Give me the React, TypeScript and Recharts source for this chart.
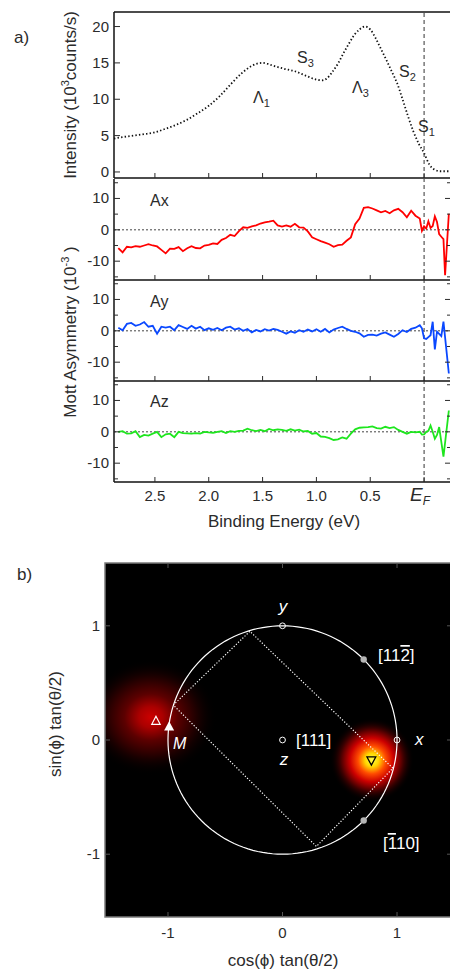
import React from 'react';
import {
  LineChart,
  Line,
  XAxis,
  YAxis,
  ReferenceLine,
  ReferenceArea,
  ScatterChart,
  Scatter,
} from 'recharts';

const FONT = '"Liberation Sans", Arial, Helvetica, sans-serif';
const INK = '#2b2b2b';

// ---------- panel a) : spectrum ----------
const intensityEnergy = [
  2.88, 2.8, 2.7, 2.6, 2.5, 2.4, 2.3, 2.2, 2.1, 2.0, 1.9, 1.8, 1.7, 1.6, 1.55, 1.5, 1.45, 1.4,
  1.3, 1.2, 1.1, 1.0, 0.95, 0.9, 0.85, 0.8, 0.75, 0.7, 0.65, 0.6, 0.55, 0.5, 0.45, 0.4, 0.35,
  0.3, 0.25, 0.2, 0.15, 0.1, 0.05, 0.0, -0.05, -0.1, -0.15, -0.2, -0.25,
];
const intensityCounts = [
  4.6, 4.8, 5.0, 5.2, 5.45, 5.95, 6.5, 7.2, 8.1, 9.1, 10.4, 12.0, 13.5, 14.6, 14.9, 15.0, 14.85, 14.6,
  14.2, 13.85, 13.25, 12.7, 12.6, 12.9, 13.8, 14.9, 16.3, 17.6, 18.8, 19.6, 20.0, 19.6, 18.4, 16.9, 15.4,
  13.8, 12.2, 10.0, 7.7, 5.6, 3.9, 2.6, 1.0, 0.3, 0.1, 0.1, 0.1,
];

// ---------- panel a) : Mott asymmetry ----------
const asymEnergy = [
  2.84, 2.8, 2.76, 2.72, 2.68, 2.64, 2.6, 2.56, 2.52, 2.48,
  2.44, 2.4, 2.36, 2.32, 2.28, 2.24, 2.2, 2.16, 2.12, 2.08,
  2.04, 2.0, 1.96, 1.92, 1.88, 1.84, 1.8, 1.76, 1.72, 1.68,
  1.64, 1.6, 1.56, 1.52, 1.48, 1.44, 1.4, 1.36, 1.32, 1.28,
  1.24, 1.2, 1.16, 1.12, 1.08, 1.04, 1.0, 0.96, 0.92, 0.88,
  0.84, 0.8, 0.76, 0.72, 0.68, 0.64, 0.6, 0.56, 0.52, 0.48,
  0.44, 0.4, 0.36, 0.32, 0.28, 0.24, 0.2, 0.16, 0.12, 0.08,
  0.04, 0.02, 0.0, -0.02, -0.04, -0.06, -0.08, -0.1, -0.12, -0.14,
  -0.16, -0.18, -0.195, -0.21, -0.23,
];
const asymX = [
  -5.8, -7.2, -5.4, -5.6, -5.2, -5.4, -5.0, -4.6, -5.0, -5.3,
  -6.4, -7.5, -6.0, -6.1, -5.5, -6.8, -5.9, -5.2, -5.8, -5.9,
  -5.0, -4.8, -4.3, -4.5, -3.2, -2.6, -1.6, -2.0, -0.4, 0.8,
  0.6, 1.1, 1.4, 2.0, 2.4, 2.6, 2.9, 1.4, 1.0, 1.4,
  1.0, 1.9, 0.8, 0.7, -0.5, -2.4, -3.0, -3.6, -4.1, -4.6,
  -5.4, -4.9, -4.7, -3.5, -2.4, 1.8, 3.6, 7.0, 7.2, 6.8,
  6.2, 5.6, 6.0, 5.3, 6.2, 6.7, 5.6, 4.0, 6.1, 4.5,
  3.6, -0.3, 1.1, 0.4, 2.7, 0.6, 1.2, 4.3, 2.5, -1.4,
  -2.2, -3.0, -14.5, null, 5.1,
];
const asymY = [
  1.0, 0.2, 2.2, 2.5, 1.6, 2.0, 2.8, 1.3, 1.6, -0.9,
  1.3, 1.0, 1.3, 0.2, 1.8, 1.2, 0.6, 1.6, 0.7, 1.3,
  0.2, 0.8, 0.3, 0.9, 0.2, 1.0, 1.3, 0.4, 0.8, 0.0,
  0.6, -0.5, 0.3, -0.2, 0.5, 0.1, 0.6, 0.3, -0.3, -0.9,
  -0.2, -0.6, 0.2, -0.3, 0.4, -0.2, 0.5, -0.3, 0.6, -0.5,
  0.4, 0.9, 1.3, 0.6, 0.0, -0.3, -0.8, -1.9, -1.3, -1.2,
  -1.5, -0.9, -0.5, -1.2, -1.9, -1.0, 0.2, -0.4, 0.6, 1.0,
  1.8, 0.8, -2.4, -2.6, -2.0, -1.4, 2.9, -5.9, -0.3, -1.0,
  -1.7, 2.9, null, null, -13.6,
];
const asymZ = [
  0.0, 0.2, -0.6, -0.5, 0.2, -1.7, -1.0, -1.2, -0.6, 0.0,
  -1.7, -0.8, -0.6, -1.7, 0.0, -0.4, -0.5, -0.6, -0.4, -0.6,
  0.0, -0.2, -0.3, 0.0, 0.2, -0.4, 0.2, 0.0, 0.3, 0.4,
  1.0, 0.5, 0.2, 0.6, 0.2, 0.9, 0.5, 0.8, 0.6, 0.3,
  0.8, 0.4, 0.7, 0.1, 0.3, -0.6, -0.4, -1.5, -1.6, -2.0,
  -2.6, -2.4, -1.8, -2.2, -0.6, 0.8, 1.3, 1.4, 1.5, 1.7,
  1.2, 1.0, 1.6, 1.2, 1.5, 0.6, 0.0, -0.6, 0.0, -0.2,
  0.0, -0.9, -0.8, 0.0, 0.3, 2.0, 0.0, -2.2, -1.0, 1.5,
  null, -7.9, null, null, 6.8,
];

const energyTicks = [2.5, 2.0, 1.5, 1.0, 0.5, 0];
const intensityTicks = [0, 5, 10, 15, 20];
const asymTicks = [-15, -10, -5, 0, 5, 10, 15];
const asymMajor = [-10, 0, 10];

// ---------- panel b) : spin map ----------
const spotX = [-1.15, 0.78];
const spotY = [0.2, -0.175];
const spotKind = ['red', 'hot'];
const rectX = [-0.954, -0.285, 0.964, 0.296, -0.954];
const rectY = [0.306, 0.952, -0.247, -0.932, 0.306];
const openDotX = [0, 1, 0];
const openDotY = [1, 0, 0];
const greyDotX = [0.709, 0.709];
const greyDotY = [0.705, -0.705];
const mX = [-0.99];
const mY = [0.116];
const upOpenX = [-1.105];
const upOpenY = [0.168];
const downX = [0.776];
const downY = [-0.18];
const mapTicks = [-1, 0, 1];

// geometry
const CHART_W = 460;
const A_LEFT = 114;
const A_RIGHT = 451;
const E_DOMAIN: [number, number] = [-0.25, 2.88];
const ASYM_DOMAIN: [number, number] = [-16, 16.2];

const pairs = (xs: number[], ys: number[]) => xs.map((x, i) => ({ x, y: ys[i] }));
const intensityRows = intensityEnergy.map((e, i) => ({ e, v: intensityCounts[i] }));
const asymRows = (vals: (number | null)[]) => asymEnergy.map((e, i) => ({ e, v: vals[i] }));

// the unit circle tan(theta/2) = 1 (a guide, not data)
const unitCircle = Array.from({ length: 145 }, (_, i) => ({
  x: Math.cos((i * 2.5 * Math.PI) / 180),
  y: Math.sin((i * 2.5 * Math.PI) / 180),
}));
const spots = spotX.map((x, i) => ({ x, y: spotY[i], kind: spotKind[i] }));

const EnergyTick = (p: any) => {
  const { x, payload, axisY, labelled } = p;
  const v = payload.value;
  return (
    <g>
      <line x1={x} x2={x} y1={axisY} y2={axisY - 5} stroke={INK} strokeWidth={1} />
      {labelled &&
        (v === 0 ? (
          <text x={x - 4} y={axisY + 19} fontFamily={FONT} fill={INK} textAnchor="middle">
            <tspan fontStyle="italic" fontSize={19}>E</tspan>
            <tspan fontStyle="italic" fontSize={12} dy={4}>F</tspan>
          </text>
        ) : (
          <text x={x} y={axisY + 19} fontFamily={FONT} fontSize={15} fill={INK} textAnchor="middle">
            {v.toFixed(1)}
          </text>
        ))}
    </g>
  );
};

const ValueTick = (p: any) => {
  const { y, payload, major, mirror } = p;
  const v = payload.value;
  const isMajor = major.includes(v);
  const len = isMajor ? 6 : 4;
  return (
    <g>
      <line x1={A_LEFT} x2={A_LEFT + len} y1={y} y2={y} stroke={INK} />
      {mirror && <line x1={A_RIGHT - len} x2={A_RIGHT} y1={y} y2={y} stroke={INK} />}
      {isMajor && (
        <text x={A_LEFT - 5} y={y + 5} fontFamily={FONT} fontSize={15} fill={INK} textAnchor="end">
          {v}
        </text>
      )}
    </g>
  );
};

function AsymPanel({ vals, color, top, bottom, labelled }: any) {
  const h = bottom - top;
  const xh = labelled ? 50 : 2;
  return (
    <div style={{ position: 'absolute', left: 0, top: top - 2 }}>
      <LineChart
        width={CHART_W}
        height={h + 2 + xh}
        data={asymRows(vals)}
        margin={{ top: 2, right: CHART_W - A_RIGHT, bottom: 0, left: 0 }}
      >
        <XAxis
          type="number"
          dataKey="e"
          domain={E_DOMAIN}
          reversed
          allowDataOverflow
          ticks={energyTicks}
          interval={0}
          height={xh}
          axisLine={{ stroke: '#111', strokeWidth: 1.5 }}
          tickLine={false}
          tick={(p: any) => <EnergyTick {...p} axisY={h + 2} labelled={labelled} />}
        />
        <YAxis
          type="number"
          domain={ASYM_DOMAIN}
          allowDataOverflow
          ticks={asymTicks}
          interval={0}
          width={A_LEFT}
          axisLine={{ stroke: '#111', strokeWidth: 1.5 }}
          tickLine={false}
          tick={(p: any) => <ValueTick {...p} major={asymMajor} mirror />}
        />
        <ReferenceLine y={0} stroke="#444" strokeDasharray="2 2" />
        <ReferenceLine x={0} stroke="#333" strokeDasharray="4 3" />
        <Line
          type="linear"
          dataKey="v"
          stroke={color}
          strokeWidth={1.8}
          dot={false}
          connectNulls
          isAnimationActive={false}
        />
      </LineChart>
    </div>
  );
}

const Nothing = () => <g />;

const HotSpot = (p: any) => {
  const { cx, cy, payload } = p;
  if (payload.kind === 'hot') {
    return (
      <g>
        <defs>
          <radialGradient id="hotGrad">
            <stop offset="0" stopColor="#ffff50" />
            <stop offset="0.16" stopColor="#ffd800" />
            <stop offset="0.33" stopColor="#ff4c00" />
            <stop offset="0.52" stopColor="#cc0000" />
            <stop offset="0.75" stopColor="#420000" />
            <stop offset="1" stopColor="#000" stopOpacity={0} />
          </radialGradient>
        </defs>
        <circle cx={cx} cy={cy} r={42} fill="url(#hotGrad)" />
      </g>
    );
  }
  return (
    <g>
      <defs>
        <radialGradient id="redGrad">
          <stop offset="0" stopColor="#cc0000" />
          <stop offset="0.18" stopColor="#aa0000" />
          <stop offset="0.4" stopColor="#5c0000" />
          <stop offset="0.68" stopColor="#220000" />
          <stop offset="1" stopColor="#000" stopOpacity={0} />
        </radialGradient>
      </defs>
      <ellipse cx={cx} cy={cy} rx={66} ry={58} fill="url(#redGrad)" />
    </g>
  );
};

const OpenDot = ({ cx, cy }: any) => <circle cx={cx} cy={cy} r={2.9} fill="none" stroke="#fff" strokeWidth={1} />;
const GreyDot = ({ cx, cy }: any) => <circle cx={cx} cy={cy} r={3.2} fill="#b5b5b5" />;
const UpFilled = ({ cx, cy }: any) => (
  <polygon points={`${cx},${cy - 5.5} ${cx - 5},${cy + 3.8} ${cx + 5},${cy + 3.8}`} fill="#fff" />
);
const UpOpen = ({ cx, cy }: any) => (
  <polygon points={`${cx},${cy - 4.5} ${cx - 4.2},${cy + 3.5} ${cx + 4.2},${cy + 3.5}`} fill="none" stroke="#fff" strokeWidth={1.2} />
);
const DownOpen = ({ cx, cy }: any) => (
  <polygon points={`${cx - 4.4},${cy - 3.6} ${cx + 4.4},${cy - 3.6} ${cx},${cy + 4.6}`} fill="none" stroke="#000" strokeWidth={1.3} />
);

const B_TOP = 23;
const B_BOTTOM = 377;
const B_LEFT = 105;
const B_RIGHT = 452;

const MapXTick = ({ x, payload }: any) => (
  <g>
    <line x1={x} x2={x} y1={B_BOTTOM} y2={B_BOTTOM - 5} stroke="#555" />
    <line x1={x} x2={x} y1={B_TOP} y2={B_TOP + 5} stroke="#555" />
    <text x={x} y={B_BOTTOM + 21} fontFamily={FONT} fontSize={15} fill={INK} textAnchor="middle">
      {payload.value}
    </text>
  </g>
);
const MapYTick = ({ y, payload }: any) => (
  <g>
    <line x1={B_LEFT} x2={B_LEFT + 5} y1={y} y2={y} stroke="#555" />
    <line x1={B_RIGHT - 5} x2={B_RIGHT} y1={y} y2={y} stroke="#555" />
    <text x={B_LEFT - 5} y={y + 5} fontFamily={FONT} fontSize={15} fill={INK} textAnchor="end">
      {payload.value}
    </text>
  </g>
);

function Overlay() {
  const t = { fontFamily: FONT, fill: INK };
  const w = { fontFamily: FONT, fill: '#fff' };
  return (
    <svg width={450} height={973} style={{ position: 'absolute', left: 0, top: 0, pointerEvents: 'none' }}>
      <line x1={A_LEFT} x2={450} y1={12} y2={12} stroke="#111" strokeWidth={1.5} />
      <text x={14} y={43} fontSize={17} {...t}>a)</text>
      <text x={17} y={580} fontSize={17} {...t}>b)</text>

      {/* spectrum annotations */}
      <text x={253} y={103} fontSize={16} {...t}>Λ<tspan fontSize={11} dy={4}>1</tspan></text>
      <text x={297} y={63} fontSize={16} {...t}>S<tspan fontSize={11} dy={4}>3</tspan></text>
      <text x={352} y={93} fontSize={16} {...t}>Λ<tspan fontSize={11} dy={4}>3</tspan></text>
      <text x={399} y={77} fontSize={16} {...t}>S<tspan fontSize={11} dy={4}>2</tspan></text>
      <text x={418} y={132} fontSize={16} {...t}>S<tspan fontSize={11} dy={4}>1</tspan></text>

      <text x={150} y={206} fontSize={16} {...t}>Ax</text>
      <text x={150} y={307} fontSize={16} {...t}>Ay</text>
      <text x={150} y={407} fontSize={16} {...t}>Az</text>

      <text transform="translate(76,95) rotate(-90)" textAnchor="middle" fontSize={17} {...t}>
        Intensity (10<tspan fontSize={11} dy={-7}>3</tspan><tspan dy={7}>counts/s)</tspan>
      </text>
      <text transform="translate(76,332) rotate(-90)" textAnchor="middle" fontSize={17} {...t}>
        Mott Asymmetry (10<tspan fontSize={11} dy={-7}>-3</tspan><tspan dy={7}> )</tspan>
      </text>
      <text x={284} y={527} textAnchor="middle" fontSize={17} {...t}>Binding Energy (eV)</text>

      {/* map annotations */}
      <text x={283} y={612} textAnchor="middle" fontSize={17} fontStyle="italic" {...w}>y</text>
      <text x={378} y={661} fontSize={17} {...w}>
        [11<tspan style={{ textDecoration: 'overline' }}>2</tspan>]
      </text>
      <text x={415} y={745} fontSize={17} fontStyle="italic" {...w}>x</text>
      <text x={296} y={746} fontSize={17} {...w}>[111]</text>
      <text x={284} y={765} textAnchor="middle" fontSize={17} fontStyle="italic" {...w}>z</text>
      <text x={173} y={749} fontSize={16} fontStyle="italic" {...w}>M</text>
      <text x={383} y={849} fontSize={17} {...w}>
        [<tspan style={{ textDecoration: 'overline' }}>1</tspan>10]
      </text>

      <text transform="translate(61,724) rotate(-90)" textAnchor="middle" fontSize={17} {...t}>
        sin(ϕ) tan(θ/2)
      </text>
      <text x={283} y={966} textAnchor="middle" fontSize={17} {...t}>cos(ϕ) tan(θ/2)</text>
    </svg>
  );
}

export default function App() {
  return (
    <div style={{ position: 'absolute', left: 0, top: 0, width: 450, height: 973, overflow: 'hidden', background: '#fff' }}>
      <div style={{ position: 'absolute', left: 0, top: 0 }}>
        <LineChart
          width={CHART_W}
          height={180}
          data={intensityRows}
          margin={{ top: 12, right: CHART_W - A_RIGHT, bottom: 0, left: 0 }}
        >
          <XAxis
            type="number"
            dataKey="e"
            domain={E_DOMAIN}
            reversed
            allowDataOverflow
            ticks={energyTicks}
            interval={0}
            height={2}
            axisLine={{ stroke: '#111', strokeWidth: 1.5 }}
            tickLine={false}
            tick={(p: any) => <EnergyTick {...p} axisY={178} labelled={false} />}
          />
          <YAxis
            type="number"
            domain={[-0.83, 22]}
            allowDataOverflow
            ticks={intensityTicks}
            interval={0}
            width={A_LEFT}
            axisLine={{ stroke: '#111', strokeWidth: 1.5 }}
            tickLine={false}
            tick={(p: any) => <ValueTick {...p} major={intensityTicks} mirror={false} />}
          />
          <ReferenceLine x={0} stroke="#333" strokeDasharray="4 3" />
          <Line
            type="monotone"
            dataKey="v"
            stroke="#111"
            strokeWidth={1.8}
            strokeDasharray="1.4 2.2"
            dot={false}
            isAnimationActive={false}
          />
        </LineChart>
      </div>

      <AsymPanel vals={asymX} color="#ff0000" top={179} bottom={280} labelled={false} />
      <AsymPanel vals={asymY} color="#0a48ff" top={280} bottom={381} labelled={false} />
      <AsymPanel vals={asymZ} color="#1ee61e" top={381} bottom={482} labelled />

      <div style={{ position: 'absolute', left: 0, top: 540 }}>
        <ScatterChart width={CHART_W} height={433} margin={{ top: B_TOP, right: CHART_W - B_RIGHT, bottom: 26, left: 0 }}>
          <ReferenceArea x1={-1.55} x2={1.48} y1={-1.55} y2={1.55} fill="#000" fillOpacity={1} />
          <Scatter data={spots} shape={HotSpot} isAnimationActive={false} />
          <ReferenceArea
            x1={-1.524}
            x2={1.52}
            y1={-1.525}
            y2={1.525}
            fill="none"
            stroke="#fff"
            strokeWidth={6}
            zIndex={650}
          />
          <ReferenceArea
            x1={-1.55}
            x2={1.48}
            y1={-1.55}
            y2={1.55}
            fill="none"
            stroke="#7a7a7a"
            strokeWidth={1.5}
            zIndex={660}
          />
          <Scatter data={unitCircle} line={{ stroke: '#fff', strokeWidth: 1.2 }} lineType="joint" shape={Nothing} isAnimationActive={false} />
          <Scatter
            data={pairs(rectX, rectY)}
            line={{ stroke: '#fff', strokeWidth: 1.2, strokeDasharray: '1.2 1.8' }}
            lineType="joint"
            shape={Nothing}
            isAnimationActive={false}
          />
          <Scatter data={pairs(openDotX, openDotY)} shape={OpenDot} isAnimationActive={false} />
          <Scatter data={pairs(greyDotX, greyDotY)} shape={GreyDot} isAnimationActive={false} />
          <Scatter data={pairs(mX, mY)} shape={UpFilled} isAnimationActive={false} />
          <Scatter data={pairs(upOpenX, upOpenY)} shape={UpOpen} isAnimationActive={false} />
          <Scatter data={pairs(downX, downY)} shape={DownOpen} isAnimationActive={false} />
          <XAxis
            type="number"
            dataKey="x"
            domain={[-1.55, 1.48]}
            allowDataOverflow
            ticks={mapTicks}
            interval={0}
            height={30}
            axisLine={false}
            tickLine={false}
            tick={MapXTick}
          />
          <YAxis
            type="number"
            dataKey="y"
            domain={[-1.55, 1.55]}
            allowDataOverflow
            ticks={mapTicks}
            interval={0}
            width={B_LEFT}
            axisLine={false}
            tickLine={false}
            tick={MapYTick}
          />
        </ScatterChart>
      </div>

      <Overlay />
    </div>
  );
}
